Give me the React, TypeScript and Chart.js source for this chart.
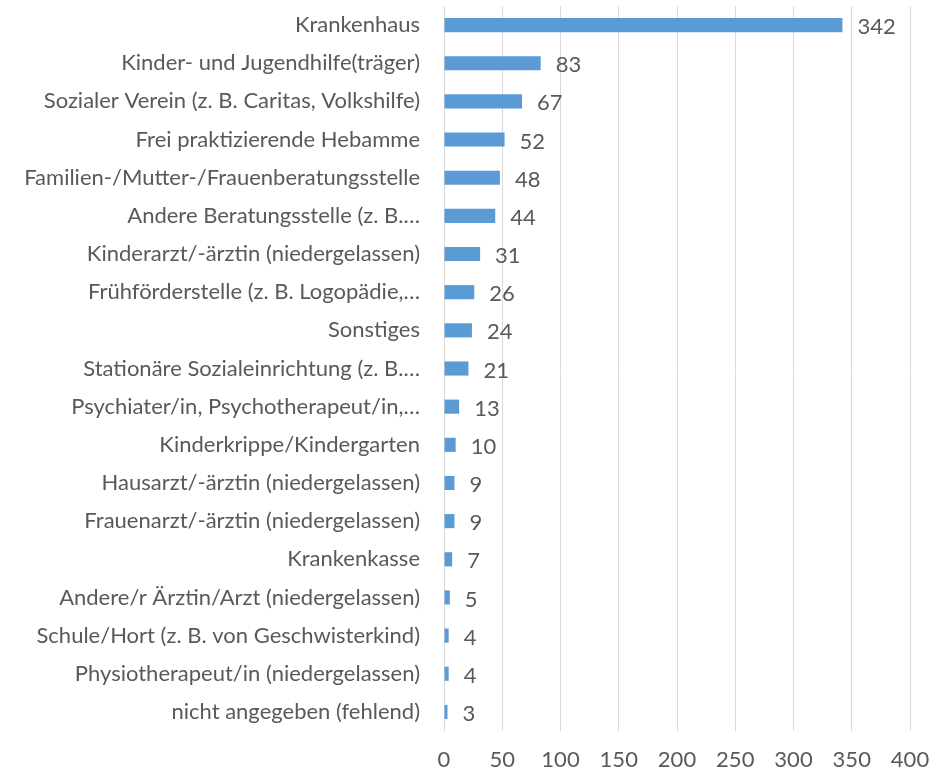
import React, { useEffect, useRef } from "react";
import { Chart, registerables } from "chart.js";

Chart.register(...registerables);

const categories = [
  "Krankenhaus",
  "Kinder- und Jugendhilfe(träger)",
  "Sozialer Verein (z. B. Caritas, Volkshilfe)",
  "Frei praktizierende Hebamme",
  "Familien-/Mutter-/Frauenberatungsstelle",
  "Andere Beratungsstelle (z. B.…",
  "Kinderarzt/-ärztin (niedergelassen)",
  "Frühförderstelle (z. B. Logopädie,…",
  "Sonstiges",
  "Stationäre Sozialeinrichtung (z. B.…",
  "Psychiater/in, Psychotherapeut/in,…",
  "Kinderkrippe/Kindergarten",
  "Hausarzt/-ärztin (niedergelassen)",
  "Frauenarzt/-ärztin (niedergelassen)",
  "Krankenkasse",
  "Andere/r Ärztin/Arzt (niedergelassen)",
  "Schule/Hort (z. B. von Geschwisterkind)",
  "Physiotherapeut/in (niedergelassen)",
  "nicht angegeben (fehlend)",
];
const values = [342, 83, 67, 52, 48, 44, 31, 26, 24, 21, 13, 10, 9, 9, 7, 5, 4, 4, 3];
const xMin = 0;
const xMax = 400;
const xStep = 50;

const FONT = "Lato, 'Open Sans', sans-serif";
const SIZE = 22;
const TEXT = "#595959";

const valueLabels = {
  id: "valueLabels",
  afterDatasetsDraw(chart: any) {
    const ctx = chart.ctx;
    const meta = chart.getDatasetMeta(0);
    ctx.save();
    ctx.font = `${SIZE}px ${FONT}`;
    ctx.fillStyle = TEXT;
    ctx.textAlign = "left";
    ctx.textBaseline = "middle";
    meta.data.forEach((bar: any, i: number) => {
      ctx.fillText(String(values[i]), bar.x + 15, bar.y + 2);
    });
    ctx.restore();
  },
};

export default function App() {
  const ref = useRef<HTMLCanvasElement>(null);
  useEffect(() => {
    if (!ref.current) return;
    const chart = new Chart(ref.current, {
      type: "bar",
      data: {
        labels: categories,
        datasets: [
          {
            data: values,
            backgroundColor: "#5B9BD5",
            borderWidth: 0,
            categoryPercentage: 1,
            barPercentage: 0.37,
          },
        ],
      },
      options: {
        indexAxis: "y",
        animation: false,
        responsive: false,
        maintainAspectRatio: false,
        layout: { padding: { top: 6, right: 36, left: 0, bottom: 0 } },
        plugins: {
          legend: { display: false },
          tooltip: { enabled: false },
        },
        scales: {
          x: {
            min: xMin,
            max: xMax,
            ticks: {
              stepSize: xStep,
              color: TEXT,
              font: { family: FONT, size: SIZE },
              padding: 16,
            },
            grid: { color: "#D9D9D9", lineWidth: 1, drawTicks: false },
            border: { display: false },
            afterFit(scale: any) {
              scale.height = 41;
              scale.paddingLeft = 0;
              scale.paddingRight = 0;
            },
          },
          y: {
            ticks: {
              color: TEXT,
              font: { family: FONT, size: SIZE },
              padding: 24,
              autoSkip: false,
            },
            grid: { display: false, drawTicks: false },
            border: { display: false },
            afterFit(scale: any) {
              scale.width = 444;
              scale.paddingTop = 0;
              scale.paddingBottom = 0;
            },
          },
        },
      },
      plugins: [valueLabels],
    });
    return () => chart.destroy();
  }, []);
  return (
    <div style={{ position: "absolute", left: 0, top: 0, width: 946, height: 772 }}>
      <canvas ref={ref} width={946} height={772} style={{ width: 946, height: 772 }} />
    </div>
  );
}
